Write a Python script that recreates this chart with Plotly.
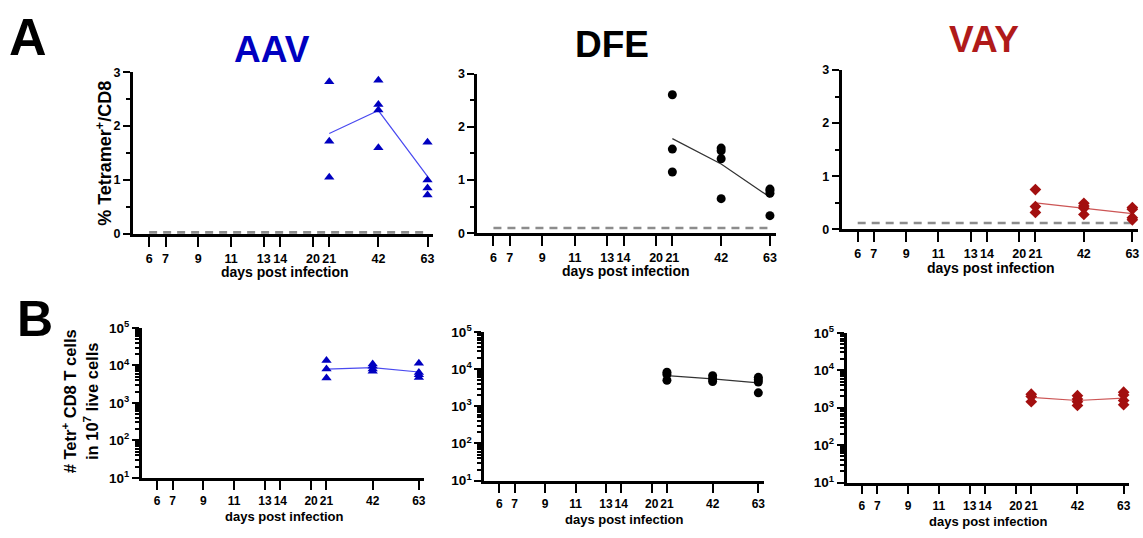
import numpy as np
import plotly.graph_objects as go

# ---------------- data ----------------
tick_days = [6, 7, 9, 11, 13, 14, 20, 21, 42, 63]
tick_text = ["6", "7", "9", "11", "13", "14", "20", "21", "42", "63"]

# Panel A: % Tetramer+/CD8
aav_pct_days = [21, 21, 21, 42, 42, 42, 42, 63, 63, 63, 63]
aav_pct_vals = [2.82, 1.72, 1.05, 2.85, 2.40, 2.30, 1.60, 1.70, 1.00, 0.85, 0.72]
dfe_pct_days = [21, 21, 21, 42, 42, 42, 42, 63, 63, 63, 63]
dfe_pct_vals = [2.60, 1.58, 1.15, 1.60, 1.55, 1.40, 0.65, 0.83, 0.80, 0.75, 0.33]
vay_pct_days = [21, 21, 21, 42, 42, 42, 42, 63, 63, 63, 63]
vay_pct_vals = [0.75, 0.43, 0.32, 0.49, 0.44, 0.40, 0.28, 0.41, 0.38, 0.22, 0.18]
detect_limit = [0.03, 0.10, 0.12]  # AAV, DFE, VAY

# Panel B: # Tetr+ CD8 T cells in 10^7 live cells
aav_cnt_days = [21, 21, 21, 42, 42, 42, 42, 63, 63, 63, 63]
aav_cnt_vals = [13500, 4650, 8000, 11000, 9500, 8000, 7000, 11500, 6500, 5600, 4800]
dfe_cnt_days = [21, 21, 21, 42, 42, 42, 63, 63, 63, 63]
dfe_cnt_vals = [8200, 7200, 5000, 6600, 5400, 4600, 6000, 5200, 4500, 2300]
vay_cnt_days = [21, 21, 21, 42, 42, 42, 42, 63, 63, 63, 63]
vay_cnt_vals = [2300, 2000, 1450, 2100, 1700, 1450, 1150, 2600, 2200, 1550, 1200]

# ---------------- layout helpers ----------------
W, H = 1143, 538
# discontinuous day axis: slot index per day (layout mapping)
day_slot = {6: 0, 7: 1, 9: 3, 11: 5, 13: 7, 14: 8, 20: 10, 21: 11, 42: 14, 63: 17}

FONT = "Liberation Sans, Arial, sans-serif"
BLUE = "#0000c0"
BLUE_LINE = "#4a4af0"
BLACK = "#000000"
RED = "#a30f0f"
RED_TITLE = "#b01a1a"
RED_LINE = "#cc5555"

def fx(px):
    return px / W

def fy(py):
    return 1 - py / H

fig = go.Figure()

# panel geometry in pixels: (axis_left, axis_right, y_bottom, y_top)
panels = {
    1: (133, 434, 231.7, 64.3),
    2: (478, 777, 231.0, 65.7),
    3: (843, 1140, 227.0, 62.0),
    4: (142, 425, 484.0, 329.0),
    5: (485, 765, 487.0, 333.0),
    6: (848, 1131, 489.0, 334.0),
}

def add_group(idx, days, vals, color, line_color, symbol, size, geo=False):
    xs = [day_slot[d] for d in days]
    xa = "x" if idx == 1 else f"x{idx}"
    ya = "y" if idx == 1 else f"y{idx}"
    ud = sorted(set(days))
    arr = np.array(vals, dtype=float)
    dd = np.array(days)
    if geo:
        means = [float(np.exp(np.mean(np.log(arr[dd == d])))) for d in ud]
    else:
        means = [float(np.mean(arr[dd == d])) for d in ud]
    fig.add_trace(go.Scatter(
        x=[day_slot[d] for d in ud], y=means, mode="lines",
        line=dict(color=line_color, width=1.2), xaxis=xa, yaxis=ya,
        showlegend=False, hoverinfo="skip"))
    fig.add_trace(go.Scatter(
        x=xs, y=vals, mode="markers",
        marker=dict(symbol=symbol, size=size, color=color, line=dict(width=0)),
        xaxis=xa, yaxis=ya, showlegend=False, cliponaxis=False))

def add_limit(idx, level):
    xa = "x" if idx == 1 else f"x{idx}"
    ya = "y" if idx == 1 else f"y{idx}"
    fig.add_trace(go.Scatter(
        x=[day_slot[tick_days[0]], day_slot[tick_days[-1]]], y=[level, level],
        mode="lines", line=dict(color="#8c8c8c", width=2.6, dash="8px,6px"),
        xaxis=xa, yaxis=ya, showlegend=False, hoverinfo="skip"))

# Panel A
add_limit(1, detect_limit[0])
add_limit(2, detect_limit[1])
add_limit(3, detect_limit[2])
add_group(1, aav_pct_days, aav_pct_vals, BLUE, BLUE_LINE, "triangle-up", 9)
add_group(2, dfe_pct_days, dfe_pct_vals, BLACK, "#333333", "circle", 9)
add_group(3, vay_pct_days, vay_pct_vals, RED, RED_LINE, "diamond", 9)
# Panel B
add_group(4, aav_cnt_days, aav_cnt_vals, BLUE, BLUE_LINE, "triangle-up", 9, geo=True)
add_group(5, dfe_cnt_days, dfe_cnt_vals, BLACK, "#333333", "circle", 9, geo=True)
add_group(6, vay_cnt_days, vay_cnt_vals, RED, RED_LINE, "diamond", 9, geo=True)

layout = dict(
    width=W, height=H, margin=dict(l=0, r=0, t=0, b=0),
    paper_bgcolor="white", plot_bgcolor="white",
    font=dict(family=FONT, color="black"),
)

tick_slots = [day_slot[d] for d in tick_days]
log_major = [10, 100, 1000, 10000, 100000]
log_major_text = ["10<sup>1</sup>", "10<sup>2</sup>", "10<sup>3</sup>", "10<sup>4</sup>", "10<sup>5</sup>"]
log_minor = [m * 10 ** k for k in range(1, 5) for m in range(2, 10)]

for idx, (xl, xr, yb, yt) in panels.items():
    xk = "xaxis" if idx == 1 else f"xaxis{idx}"
    yk = "yaxis" if idx == 1 else f"yaxis{idx}"
    yref = "y" if idx == 1 else f"y{idx}"
    xref = "x" if idx == 1 else f"x{idx}"
    top = idx <= 3
    layout[xk] = dict(
        domain=[fx(xl), fx(xr)], anchor=yref, range=[-1, 17.35],
        showgrid=False, zeroline=False, showline=True, linecolor="black", linewidth=2.6,
        tickmode="array", tickvals=tick_slots, ticktext=tick_text, tickangle=0,
        ticks="outside", ticklen=10 if top else 9, tickwidth=2.4, tickcolor="black",
        ticklabelstandoff=1,
        tickfont=dict(family=FONT, size=12.5 if top else 12, weight="bold", color="black"),
        fixedrange=True,
    )
    if top:
        layout[yk] = dict(
            domain=[fy(yb), fy(yt)], anchor=xref, range=[0, 3],
            showgrid=False, zeroline=False, showline=True, linecolor="black", linewidth=2.6,
            tickmode="array", tickvals=[0, 1, 2, 3], ticktext=["0", "1", "2", "3"],
            ticks="outside", ticklen=7, tickwidth=2.4, tickcolor="black",
            minor=dict(tickmode="array", tickvals=[0.5, 1.5, 2.5], ticks="outside",
                       ticklen=4, tickwidth=2, tickcolor="black", showgrid=False),
            tickfont=dict(family=FONT, size=12.5, weight="bold", color="black"),
            fixedrange=True,
        )
    else:
        layout[yk] = dict(
            domain=[fy(yb), fy(yt)], anchor=xref, type="log", range=[1, 5],
            showgrid=False, zeroline=False, showline=True, linecolor="black", linewidth=2.6,
            tickmode="array", tickvals=log_major, ticktext=log_major_text,
            ticks="outside", ticklen=7, tickwidth=2.4, tickcolor="black",
            minor=dict(tickmode="array", tickvals=log_minor, ticks="outside",
                       ticklen=4, tickwidth=1.5, tickcolor="black", showgrid=False),
            tickfont=dict(family=FONT, size=13.5, weight="bold", color="black"),
            fixedrange=True,
        )

fig.update_layout(**layout)

def ann(text, px, py, size, color="black", angle=0):
    fig.add_annotation(text=text, x=fx(px), y=fy(py), xref="paper", yref="paper",
                       xanchor="center", yanchor="middle", showarrow=False,
                       textangle=angle,
                       font=dict(family=FONT, size=size, color=color, weight="bold"))

ann("A", 28, 28, 52)
ann("B", 35, 320, 50)
ann("AAV", 272, 41, 37, BLUE)
ann("DFE", 613, 36, 37, BLACK)
ann("VAY", 986, 31, 37, RED_TITLE)

ann("days post infection", 285, 271, 14)
ann("days post infection", 627, 270, 14)
ann("days post infection", 993, 267, 14)
ann("days post infection", 285, 524, 13)
ann("days post infection", 626, 527, 13)
ann("days post infection", 990, 529, 13)

ann("% Tetramer<sup>+</sup>/CD8", 104, 148, 18, angle=-90)
ann("# Tetr<sup>+</sup> CD8 T cells<br>in 10<sup>7</sup> live cells", 80, 405, 16.5, angle=-90)

fig.write_html(
    "out.html",
    config={"displayModeBar": False},
    post_script="document.body.style.margin='0';document.body.style.overflow='hidden';",
)
